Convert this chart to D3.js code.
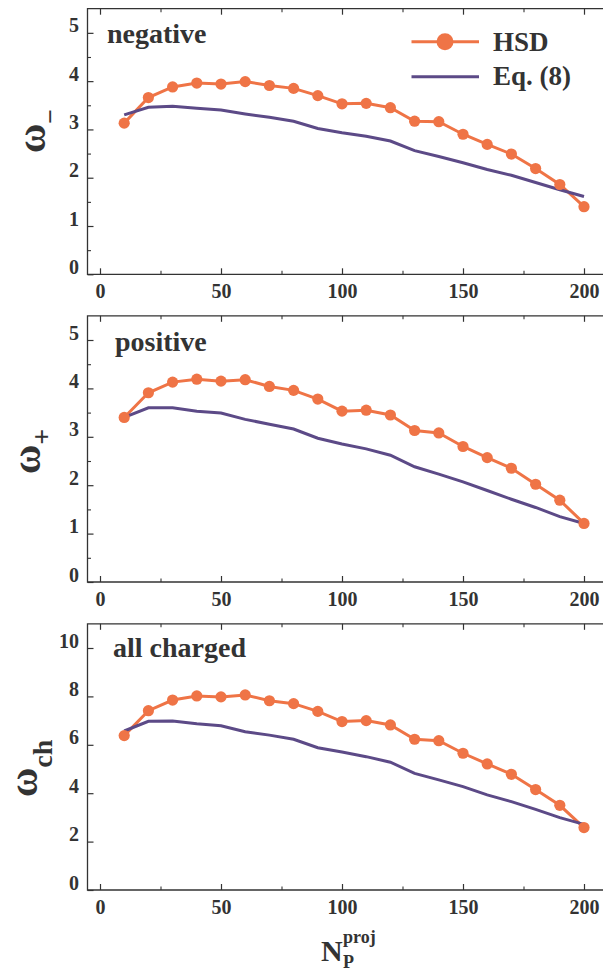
<!DOCTYPE html>
<html><head><meta charset="utf-8">
<script src="https://cdn.jsdelivr.net/npm/d3@7"></script>
<style>
html,body{margin:0;padding:0;background:#fff;}
svg{display:block;}
text{font-family:"Liberation Serif","Times New Roman",serif;font-weight:bold;fill:#333;}
</style></head>
<body>
<svg id="chart" width="603" height="973"></svg>
<script>
// ---- data ----
const nProj = [10,20,30,40,50,60,70,80,90,100,110,120,130,140,150,160,170,180,190,200];
const hsdNegative = [3.13,3.66,3.88,3.96,3.94,3.99,3.91,3.85,3.70,3.53,3.54,3.45,3.17,3.16,2.90,2.69,2.49,2.19,1.86,1.40];
const eqNegative  = [3.30,3.46,3.48,3.44,3.40,3.32,3.25,3.17,3.02,2.93,2.86,2.76,2.56,2.44,2.31,2.17,2.05,1.90,1.75,1.61];
const hsdPositive = [3.40,3.91,4.13,4.19,4.15,4.18,4.04,3.96,3.78,3.53,3.55,3.45,3.13,3.08,2.80,2.57,2.35,2.02,1.69,1.21];
const eqPositive  = [3.40,3.60,3.60,3.53,3.49,3.36,3.26,3.16,2.97,2.85,2.75,2.62,2.38,2.23,2.07,1.89,1.71,1.54,1.35,1.21];
const hsdCharged  = [6.38,7.41,7.85,8.02,7.98,8.06,7.82,7.70,7.38,6.96,7.00,6.82,6.23,6.17,5.65,5.21,4.78,4.15,3.50,2.58];
const eqCharged   = [6.57,6.97,6.98,6.87,6.79,6.54,6.40,6.23,5.88,5.70,5.51,5.28,4.82,4.55,4.27,3.93,3.65,3.33,2.99,2.71];
const xTicks = [0,50,100,150,200];
const xMinorTicks = [25,75,125,175];
const yTicksSmall = [0,1,2,3,4,5];
const yMinorSmall = [0.5,1.5,2.5,3.5,4.5];
const yTicksLarge = [0,2,4,6,8,10];
const panelNames = ["negative","positive","all charged"];
const legendLabels = ["HSD","Eq. (8)"];

const ORANGE = "#EF7446", PURPLE = "#5C4A87", AX = "#333";

const svg = d3.select("#chart");
const x = d3.scaleLinear().domain([0,200]).range([100,584]);
const frameLeft = 87.5, frameRight = 603;

const panels = [
  {hsd:hsdNegative, eq:eqNegative, dom:[0,5.5], range:[274.3,8.7], ticks:yTicksSmall, minor:yMinorSmall,
   name:panelNames[0], nameX:107, nameY:43, sym:"−", symX:45, symY:153, subDy:14, subSize:26},
  {hsd:hsdPositive, eq:eqPositive, dom:[0,5.5], range:[582,315.8], ticks:yTicksSmall, minor:yMinorSmall,
   name:panelNames[1], nameX:115, nameY:351, sym:"+", symX:40, symY:474, subDy:11, subSize:28},
  {hsd:hsdCharged, eq:eqCharged, dom:[0,11], range:[890,623.8], ticks:yTicksLarge, minor:[],
   name:panelNames[2], nameX:113, nameY:657, sym:"ch", symX:37, symY:797, subDy:15, subSize:28}
];

panels.forEach((p,i)=>{
  const y = d3.scaleLinear().domain(p.dom).range(p.range);
  const g = svg.append("g");
  const yb = p.range[0], yt = p.range[1];

  // frame lines (left, bottom, top)
  g.append("path").attr("d",`M${frameRight},${yt}H${frameLeft}V${yb}H${frameRight}`)
    .attr("fill","none").attr("stroke",AX).attr("stroke-width",1.3);

  // bottom axis (inward ticks)
  const bx = g.append("g").attr("transform",`translate(0,${yb})`)
    .call(d3.axisBottom(x).tickValues(xTicks).tickSize(-6).tickPadding(0).tickFormat(d3.format("d")));
  bx.select(".domain").remove();
  bx.selectAll(".tick line").attr("stroke",AX).attr("stroke-width",1.2);
  bx.selectAll(".tick text").attr("dy",null).attr("y",23.5).style("font-size","20px").attr("fill",AX);
  const bxm = g.append("g").attr("transform",`translate(0,${yb})`)
    .call(d3.axisBottom(x).tickValues(xMinorTicks).tickSize(-3.5).tickFormat(""));
  bxm.select(".domain").remove();
  bxm.selectAll(".tick line").attr("stroke",AX).attr("stroke-width",1.1);

  // top mirrored ticks
  const tx = g.append("g").attr("transform",`translate(0,${yt})`)
    .call(d3.axisTop(x).tickValues(xTicks).tickSize(-6).tickFormat(""));
  tx.select(".domain").remove();
  tx.selectAll(".tick line").attr("stroke",AX).attr("stroke-width",1.2);
  const txm = g.append("g").attr("transform",`translate(0,${yt})`)
    .call(d3.axisTop(x).tickValues(xMinorTicks).tickSize(-3.5).tickFormat(""));
  txm.select(".domain").remove();
  txm.selectAll(".tick line").attr("stroke",AX).attr("stroke-width",1.1);

  // left axis
  const ly = g.append("g").attr("transform",`translate(${frameLeft},0)`)
    .call(d3.axisLeft(y).tickValues(p.ticks).tickSize(-6).tickPadding(0).tickFormat(d3.format("d")));
  ly.select(".domain").remove();
  ly.selectAll(".tick line").attr("stroke",AX).attr("stroke-width",1.2);
  ly.selectAll(".tick text").attr("dy",null).attr("x",-8.5).attr("y",-1)
    .style("font-size","20px").attr("fill",AX);
  if(p.minor.length){
    const lym = g.append("g").attr("transform",`translate(${frameLeft},0)`)
      .call(d3.axisLeft(y).tickValues(p.minor).tickSize(-3.5).tickFormat(""));
    lym.select(".domain").remove();
    lym.selectAll(".tick line").attr("stroke",AX).attr("stroke-width",1.1);
  }

  // data
  const line = d3.line().x((d,k)=>x(nProj[k])).y(d=>y(d));
  g.append("path").datum(p.hsd).attr("d",line).attr("fill","none")
    .attr("stroke",ORANGE).attr("stroke-width",3);
  g.append("path").datum(p.eq).attr("d",line).attr("fill","none")
    .attr("stroke",PURPLE).attr("stroke-width",3);
  g.selectAll("circle.pt").data(p.hsd).join("circle").attr("class","pt")
    .attr("cx",(d,k)=>x(nProj[k])).attr("cy",d=>y(d)).attr("r",5.6).attr("fill",ORANGE);

  // panel name
  g.append("text").attr("x",p.nameX).attr("y",p.nameY).style("font-size","28px").text(p.name);

  // y title
  const t = g.append("text").attr("transform",`translate(${p.symX},${p.symY}) rotate(-90)`)
    .attr("text-anchor","start");
  t.append("tspan").style("font-size","40px").text("ω");
  t.append("tspan").attr("dy",p.subDy).style("font-size",p.subSize+"px").text(p.sym);
});

// legend
const lg = svg.append("g");
lg.append("line").attr("x1",411.5).attr("x2",479).attr("y1",41.7).attr("y2",41.7)
  .attr("stroke",ORANGE).attr("stroke-width",3);
lg.append("circle").attr("cx",445).attr("cy",41.7).attr("r",8.5).attr("fill",ORANGE);
lg.append("text").attr("x",493).attr("y",51).style("font-size","27px").text(legendLabels[0]);
lg.append("line").attr("x1",411.5).attr("x2",479).attr("y1",76.7).attr("y2",76.7)
  .attr("stroke",PURPLE).attr("stroke-width",3);
lg.append("text").attr("x",493).attr("y",85).style("font-size","27px").text(legendLabels[1]);

// x title
const xt = svg.append("text");
xt.append("tspan").attr("x",321).attr("y",961).style("font-size","30px").text("N");
xt.append("tspan").attr("x",343).attr("y",943).style("font-size","18px").text("proj");
xt.append("tspan").attr("x",343).attr("y",968).style("font-size","18px").text("P");
</script>
</body></html>
